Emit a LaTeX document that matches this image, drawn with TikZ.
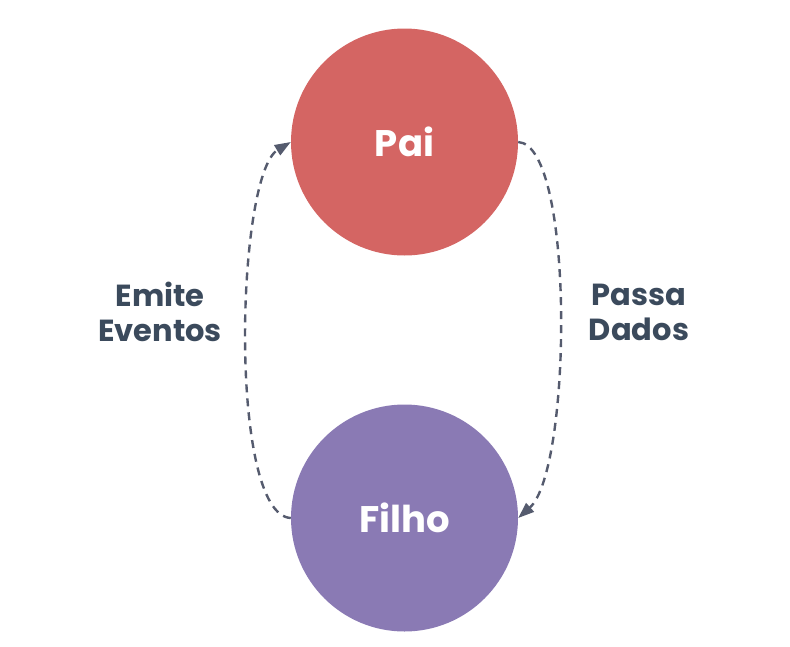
\documentclass[tikz,border=0pt]{standalone}
\usepackage{fontspec}
\setmainfont{Poppins}
\usetikzlibrary{arrows.meta}
\definecolor{paicol}{HTML}{D46563}
\definecolor{filhocol}{HTML}{8A7AB4}
\definecolor{labelcol}{HTML}{3B4A5C}
\definecolor{linecol}{HTML}{555B6E}
\begin{document}
\begin{tikzpicture}[x=1pt,y=-1pt,
  bubble/.style={circle, minimum size=227pt, inner sep=0pt, text=white, font=\fontsize{37}{40}\selectfont\bfseries},
  flowlabel/.style={align=center, text=labelcol, font=\fontsize{30.5}{35}\selectfont\bfseries},
  flow/.style={draw=linecol, line width=2.4pt, dash pattern=on 8pt off 6pt, -{Triangle[length=16pt,width=11.5pt]}}]
\useasboundingbox (0,0) rectangle (790,646);
\node[bubble, fill=paicol] (pai) at (404.5,142) {Pai};
\node[bubble, fill=filhocol] (filho) at (404.5,518) {Filho};
\node[flowlabel] (emite) at (160,312) {Emite\\Eventos};
\node[flowlabel] (passa) at (639,312) {Passa\\Dados};
\draw[flow] (filho.west) .. controls (228,515) and (236,175) .. (pai.west);
\draw[flow] (pai.east) .. controls (575,145) and (572,470) .. (filho.east);
\end{tikzpicture}
\end{document}
